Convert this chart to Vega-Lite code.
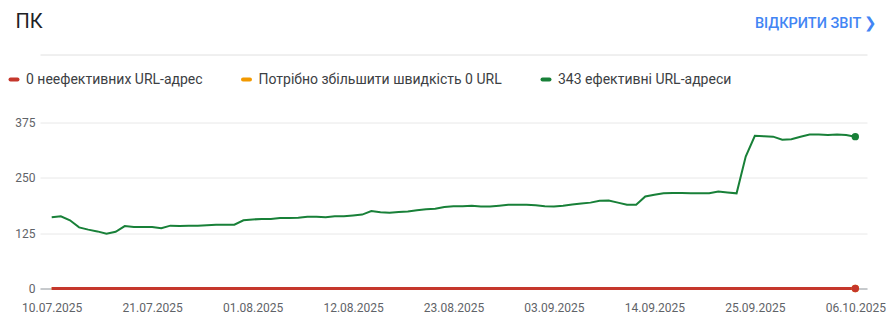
{
  "$schema": "https://vega.github.io/schema/vega-lite/v6.json",
  "width": 827,
  "height": 166,
  "autosize": "none",
  "padding": {"left": 40, "top": 122.5, "right": 24, "bottom": 40.5},
  "background": "white",
  "config": {"view": {"stroke": null}, "font": "Roboto"},
  "data": {
    "format": {"parse": {"date": "utc:'%Y-%m-%d'"}},
    "values": [
      {"date": "2025-07-10", "good": 161, "ni": 0, "poor": 0},
      {"date": "2025-07-11", "good": 163, "ni": 0, "poor": 0},
      {"date": "2025-07-12", "good": 154, "ni": 0, "poor": 0},
      {"date": "2025-07-13", "good": 138, "ni": 0, "poor": 0},
      {"date": "2025-07-14", "good": 133, "ni": 0, "poor": 0},
      {"date": "2025-07-15", "good": 129, "ni": 0, "poor": 0},
      {"date": "2025-07-16", "good": 124, "ni": 0, "poor": 0},
      {"date": "2025-07-17", "good": 128, "ni": 0, "poor": 0},
      {"date": "2025-07-18", "good": 141, "ni": 0, "poor": 0},
      {"date": "2025-07-19", "good": 139, "ni": 0, "poor": 0},
      {"date": "2025-07-20", "good": 139, "ni": 0, "poor": 0},
      {"date": "2025-07-21", "good": 139, "ni": 0, "poor": 0},
      {"date": "2025-07-22", "good": 136, "ni": 0, "poor": 0},
      {"date": "2025-07-23", "good": 142, "ni": 0, "poor": 0},
      {"date": "2025-07-24", "good": 141, "ni": 0, "poor": 0},
      {"date": "2025-07-25", "good": 142, "ni": 0, "poor": 0},
      {"date": "2025-07-26", "good": 142, "ni": 0, "poor": 0},
      {"date": "2025-07-27", "good": 143, "ni": 0, "poor": 0},
      {"date": "2025-07-28", "good": 144, "ni": 0, "poor": 0},
      {"date": "2025-07-29", "good": 144, "ni": 0, "poor": 0},
      {"date": "2025-07-30", "good": 144, "ni": 0, "poor": 0},
      {"date": "2025-07-31", "good": 154, "ni": 0, "poor": 0},
      {"date": "2025-08-01", "good": 156, "ni": 0, "poor": 0},
      {"date": "2025-08-02", "good": 157, "ni": 0, "poor": 0},
      {"date": "2025-08-03", "good": 157, "ni": 0, "poor": 0},
      {"date": "2025-08-04", "good": 159, "ni": 0, "poor": 0},
      {"date": "2025-08-05", "good": 159, "ni": 0, "poor": 0},
      {"date": "2025-08-06", "good": 160, "ni": 0, "poor": 0},
      {"date": "2025-08-07", "good": 162, "ni": 0, "poor": 0},
      {"date": "2025-08-08", "good": 162, "ni": 0, "poor": 0},
      {"date": "2025-08-09", "good": 161, "ni": 0, "poor": 0},
      {"date": "2025-08-10", "good": 163, "ni": 0, "poor": 0},
      {"date": "2025-08-11", "good": 163, "ni": 0, "poor": 0},
      {"date": "2025-08-12", "good": 165, "ni": 0, "poor": 0},
      {"date": "2025-08-13", "good": 167, "ni": 0, "poor": 0},
      {"date": "2025-08-14", "good": 175, "ni": 0, "poor": 0},
      {"date": "2025-08-15", "good": 172, "ni": 0, "poor": 0},
      {"date": "2025-08-16", "good": 171, "ni": 0, "poor": 0},
      {"date": "2025-08-17", "good": 173, "ni": 0, "poor": 0},
      {"date": "2025-08-18", "good": 174, "ni": 0, "poor": 0},
      {"date": "2025-08-19", "good": 177, "ni": 0, "poor": 0},
      {"date": "2025-08-20", "good": 179, "ni": 0, "poor": 0},
      {"date": "2025-08-21", "good": 180, "ni": 0, "poor": 0},
      {"date": "2025-08-22", "good": 184, "ni": 0, "poor": 0},
      {"date": "2025-08-23", "good": 186, "ni": 0, "poor": 0},
      {"date": "2025-08-24", "good": 186, "ni": 0, "poor": 0},
      {"date": "2025-08-25", "good": 187, "ni": 0, "poor": 0},
      {"date": "2025-08-26", "good": 185, "ni": 0, "poor": 0},
      {"date": "2025-08-27", "good": 185, "ni": 0, "poor": 0},
      {"date": "2025-08-28", "good": 187, "ni": 0, "poor": 0},
      {"date": "2025-08-29", "good": 189, "ni": 0, "poor": 0},
      {"date": "2025-08-30", "good": 189, "ni": 0, "poor": 0},
      {"date": "2025-08-31", "good": 189, "ni": 0, "poor": 0},
      {"date": "2025-09-01", "good": 188, "ni": 0, "poor": 0},
      {"date": "2025-09-02", "good": 186, "ni": 0, "poor": 0},
      {"date": "2025-09-03", "good": 185, "ni": 0, "poor": 0},
      {"date": "2025-09-04", "good": 187, "ni": 0, "poor": 0},
      {"date": "2025-09-05", "good": 190, "ni": 0, "poor": 0},
      {"date": "2025-09-06", "good": 192, "ni": 0, "poor": 0},
      {"date": "2025-09-07", "good": 194, "ni": 0, "poor": 0},
      {"date": "2025-09-08", "good": 198, "ni": 0, "poor": 0},
      {"date": "2025-09-09", "good": 199, "ni": 0, "poor": 0},
      {"date": "2025-09-10", "good": 194, "ni": 0, "poor": 0},
      {"date": "2025-09-11", "good": 189, "ni": 0, "poor": 0},
      {"date": "2025-09-12", "good": 189, "ni": 0, "poor": 0},
      {"date": "2025-09-13", "good": 208, "ni": 0, "poor": 0},
      {"date": "2025-09-14", "good": 212, "ni": 0, "poor": 0},
      {"date": "2025-09-15", "good": 215, "ni": 0, "poor": 0},
      {"date": "2025-09-16", "good": 216, "ni": 0, "poor": 0},
      {"date": "2025-09-17", "good": 216, "ni": 0, "poor": 0},
      {"date": "2025-09-18", "good": 215, "ni": 0, "poor": 0},
      {"date": "2025-09-19", "good": 215, "ni": 0, "poor": 0},
      {"date": "2025-09-20", "good": 215, "ni": 0, "poor": 0},
      {"date": "2025-09-21", "good": 219, "ni": 0, "poor": 0},
      {"date": "2025-09-22", "good": 217, "ni": 0, "poor": 0},
      {"date": "2025-09-23", "good": 215, "ni": 0, "poor": 0},
      {"date": "2025-09-24", "good": 298, "ni": 0, "poor": 0},
      {"date": "2025-09-25", "good": 345, "ni": 0, "poor": 0},
      {"date": "2025-09-26", "good": 344, "ni": 0, "poor": 0},
      {"date": "2025-09-27", "good": 343, "ni": 0, "poor": 0},
      {"date": "2025-09-28", "good": 336, "ni": 0, "poor": 0},
      {"date": "2025-09-29", "good": 337, "ni": 0, "poor": 0},
      {"date": "2025-09-30", "good": 343, "ni": 0, "poor": 0},
      {"date": "2025-10-01", "good": 348, "ni": 0, "poor": 0},
      {"date": "2025-10-02", "good": 348, "ni": 0, "poor": 0},
      {"date": "2025-10-03", "good": 347, "ni": 0, "poor": 0},
      {"date": "2025-10-04", "good": 348, "ni": 0, "poor": 0},
      {"date": "2025-10-05", "good": 347, "ni": 0, "poor": 0},
      {"date": "2025-10-06", "good": 343, "ni": 0, "poor": 0}
    ]
  },
  "transform": [{"fold": ["ni", "poor", "good"], "as": ["series", "value"]}],
  "encoding": {
    "y": {
      "field": "value",
      "type": "quantitative",
      "scale": {"domain": [0, 375], "nice": false},
      "axis": {
        "values": [0, 125, 250, 375],
        "grid": true,
        "gridColor": "#e8e8e8",
        "gridWidth": 1,
        "domain": false,
        "ticks": false,
        "labelPadding": 5,
        "labelColor": "#5f6368",
        "labelFontSize": 12,
        "labelFont": "Roboto",
        "title": "ПК",
        "titleAngle": 0,
        "titleAlign": "left",
        "titleBaseline": "alphabetic",
        "titleX": -25,
        "titleY": -95,
        "titleFontSize": 20,
        "titleFontWeight": 400,
        "titleFont": "Roboto",
        "titleColor": "#202124"
      }
    },
    "color": {
      "field": "series",
      "type": "nominal",
      "scale": {"domain": ["poor", "ni", "good"], "range": ["#c5372c", "#f29900", "#188038"]},
      "legend": {
        "orient": "none",
        "legendX": -33,
        "legendY": -50,
        "direction": "horizontal",
        "title": null,
        "symbolType": "stroke",
        "symbolStrokeWidth": 4,
        "symbolSize": 49,
        "symbolOpacity": 1,
        "labelFont": "Roboto",
        "labelFontSize": 14,
        "labelColor": "#3c4043",
        "labelOffset": 5,
        "columnPadding": 31.5,
        "gridAlign": "none",
        "padding": 0,
        "labelLimit": 400,
        "labelExpr": "datum.label == 'poor' ? '0 неефективних URL-адрес' : datum.label == 'ni' ? 'Потрібно збільшити швидкість 0 URL' : '343 ефективні URL-адреси'",
        "encode": {"symbols": {"update": {"strokeCap": {"value": "round"}}}}
      }
    }
  },
  "layer": [
    {
      "mark": {"type": "line", "interpolate": "linear"},
      "encoding": {
        "x": {
          "field": "date",
          "type": "temporal",
          "scale": {"type": "utc", "domain": [{"year": 2025, "month": 7, "date": 8, "hours": 17, "minutes": 15, "utc": true}, {"year": 2025, "month": 10, "date": 7, "hours": 6, "minutes": 45, "utc": true}]},
          "axis": {
            "orient": "bottom",
            "values": [
              {"year": 2025, "month": 7, "date": 10, "utc": true},
              {"year": 2025, "month": 7, "date": 21, "utc": true},
              {"year": 2025, "month": 8, "date": 1, "utc": true},
              {"year": 2025, "month": 8, "date": 12, "utc": true},
              {"year": 2025, "month": 8, "date": 23, "utc": true},
              {"year": 2025, "month": 9, "date": 3, "utc": true},
              {"year": 2025, "month": 9, "date": 14, "utc": true},
              {"year": 2025, "month": 9, "date": 25, "utc": true},
              {"year": 2025, "month": 10, "date": 6, "utc": true}
            ],
            "format": "%d.%m.%Y",
            "labelColor": "#5f6368",
            "labelFontSize": 12,
            "labelFont": "Roboto",
            "labelPadding": 14,
            "labelOverlap": false,
            "labelFlush": false,
            "labelBound": false,
            "ticks": false,
            "grid": false,
            "domainColor": "#9aa0a6",
            "domainWidth": 1,
            "title": null
          }
        },
        "strokeWidth": {"condition": {"test": "datum.series === 'good'", "value": 2}, "value": 3}
      }
    },
    {
      "transform": [{"filter": "utcmonth(datum.date) == 9 && utcdate(datum.date) == 6"}],
      "mark": {"type": "point", "filled": true, "size": 55, "opacity": 1},
      "encoding": {
        "x": {
          "field": "date",
          "type": "temporal",
          "scale": {"type": "utc", "domain": [{"year": 2025, "month": 7, "date": 8, "hours": 17, "minutes": 15, "utc": true}, {"year": 2025, "month": 10, "date": 7, "hours": 6, "minutes": 45, "utc": true}]},
          "axis": {
            "orient": "top",
            "offset": 68,
            "domainColor": "#e0e0e0",
            "domainWidth": 1,
            "ticks": false,
            "labels": false,
            "grid": false,
            "title": "ВІДКРИТИ ЗВІТ ❯",
            "titleColor": "#4285f4",
            "titleFont": "Roboto",
            "titleFontSize": 14.5,
            "titleFontWeight": 500,
            "titleAlign": "right",
            "titleAnchor": "end",
            "titleBaseline": "middle",
            "titleX": 837,
            "titleY": -31.5
          }
        }
      }
    }
  ],
  "resolve": {"axis": {"x": "independent"}}
}
